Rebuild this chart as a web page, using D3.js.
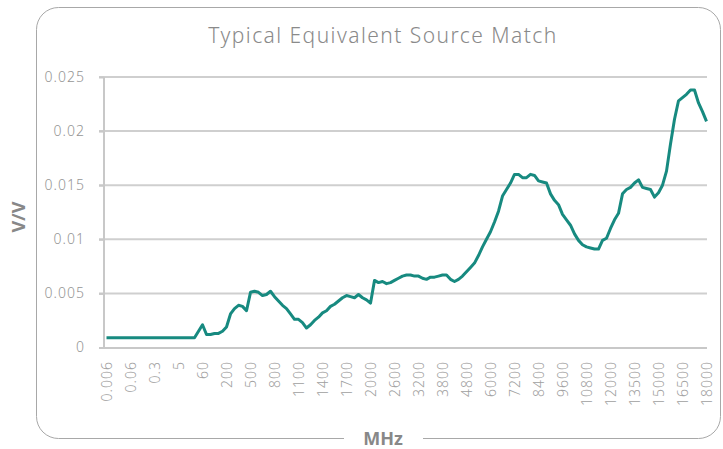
<!DOCTYPE html>
<html>
<head>
<meta charset="utf-8">
<script src="https://d3js.org/d3.v7.min.js"></script>
<style>
  body { margin: 0; background: #fff; }
  text { font-family: "Noto Sans", "Open Sans", sans-serif; }
</style>
</head>
<body>
<div id="graph"></div>
<script>
// x tick labels (MHz), one every 6 samples
var tickLabels = ["0.006", "0.06", "0.3", "5", "60", "200", "500", "800", "1100", "1400",
  "1700", "2000", "2600", "3200", "3800", "4800", "6000", "7200", "8400", "9600",
  "10800", "12000", "13500", "15000", "16500", "18000"];
var stepsPerLabel = 6;

// V/V values, one per sample
var match = [
  0.0009, 0.0009, 0.0009, 0.0009, 0.0009, 0.0009, 0.0009, 0.0009, 0.0009, 0.0009,
  0.0009, 0.0009, 0.0009, 0.0009, 0.0009, 0.0009, 0.0009, 0.0009, 0.0009, 0.0009,
  0.0009, 0.0009, 0.0009, 0.0015, 0.0021, 0.0012, 0.0012, 0.0013, 0.0013, 0.0015,
  0.0019, 0.0031, 0.0036, 0.0039, 0.0038, 0.0034, 0.0051, 0.0052, 0.0051, 0.0048,
  0.0049, 0.0052, 0.0047, 0.0043, 0.0039, 0.0036, 0.0031, 0.0026, 0.0026, 0.0023,
  0.0018, 0.0021, 0.0025, 0.0028, 0.0032, 0.0034, 0.0038, 0.0040, 0.0043, 0.0046,
  0.0048, 0.0047, 0.0046, 0.0049, 0.0046, 0.0044, 0.0041, 0.0062, 0.0060, 0.0061,
  0.0059, 0.0060, 0.0062, 0.0064, 0.0066, 0.0067, 0.0067, 0.0066, 0.0066, 0.0064,
  0.0063, 0.0065, 0.0065, 0.0066, 0.0067, 0.0067, 0.0063, 0.0061, 0.0063, 0.0066,
  0.0070, 0.0074, 0.0078, 0.0085, 0.0093, 0.0100, 0.0107, 0.0116, 0.0126, 0.0140,
  0.0146, 0.0152, 0.0160, 0.0160, 0.0157, 0.0157, 0.0160, 0.0159, 0.0154, 0.0153,
  0.0152, 0.0142, 0.0136, 0.0132, 0.0123, 0.0118, 0.0113, 0.0105, 0.0099, 0.0095,
  0.0093, 0.0092, 0.0091, 0.0091, 0.0099, 0.0101, 0.0110, 0.0118, 0.0124, 0.0142,
  0.0146, 0.0148, 0.0152, 0.0155, 0.0148, 0.0147, 0.0146, 0.0139, 0.0143, 0.0150,
  0.0163, 0.0188, 0.0211, 0.0228, 0.0231, 0.0234, 0.0238, 0.0238, 0.0226, 0.0218,
  0.0209
];

var yTicks = [0, 0.005, 0.01, 0.015, 0.02, 0.025];

const fullwidth = 723;
const fullheight = 449;

var svg = d3.select("#graph").append("svg")
  .attr("width", fullwidth)
  .attr("height", fullheight);

// rounded frame
svg.append("rect")
  .attr("x", 36.5).attr("y", 7.5)
  .attr("width", 684).attr("height", 431)
  .attr("rx", 22).attr("ry", 22)
  .attr("fill", "none")
  .attr("stroke", "#a8a8a8")
  .attr("stroke-width", 1);

var xScale = d3.scaleLinear()
  .domain([0, match.length - 1])
  .range([106.5, 706.5]);

var yScale = d3.scaleLinear()
  .domain([0, 0.025])
  .range([347.5, 77]);

// horizontal grid lines
svg.append("g")
  .selectAll("line")
  .data(yTicks.slice(1))
  .enter().append("line")
    .attr("x1", 99).attr("x2", 707)
    .attr("y1", d => yScale(d)).attr("y2", d => yScale(d))
    .attr("stroke", "#cfcfcf")
    .attr("stroke-width", 2);

// y axis
var yAxis = d3.axisLeft(yScale)
  .tickValues(yTicks)
  .tickFormat(d => d === 0 ? "0" : String(+d.toFixed(3)))
  .tickSize(5)
  .tickPadding(14);

var gy = svg.append("g")
  .attr("transform", "translate(104,0)")
  .call(yAxis);
gy.select(".domain").remove();
gy.selectAll(".tick line").attr("stroke", "#c8c8c8").attr("stroke-width", 2);
gy.selectAll(".tick text")
  .attr("fill", "#959595")
  .style("font-size", "14px")
  .style("font-weight", "300")
  .style("letter-spacing", "1px");

svg.append("line")
  .attr("x1", 104).attr("x2", 104)
  .attr("y1", 77).attr("y2", 348)
  .attr("stroke", "#c8c8c8")
  .attr("stroke-width", 2);

svg.append("line")
  .attr("x1", 99).attr("x2", 707)
  .attr("y1", 348).attr("y2", 348)
  .attr("stroke", "#c8c8c8")
  .attr("stroke-width", 2);

// x axis labels
var xAxis = d3.axisBottom(xScale)
  .tickValues(tickLabels.map((d, i) => i * stepsPerLabel))
  .tickFormat((d, i) => tickLabels[i])
  .tickSize(0);

var gx = svg.append("g")
  .attr("transform", "translate(0,348)")
  .call(xAxis);
gx.select(".domain").remove();
gx.selectAll(".tick text")
  .attr("transform", "rotate(-90)")
  .attr("x", -13)
  .attr("y", 0)
  .attr("dy", "0.35em")
  .attr("text-anchor", "end")
  .attr("fill", "#a0a0a0")
  .style("font-size", "14px")
  .style("font-weight", "300")
  .style("letter-spacing", "1px");

// data line
var line = d3.line()
  .x((d, i) => xScale(i))
  .y(d => yScale(d));

svg.append("path")
  .datum(match)
  .attr("d", line)
  .attr("fill", "none")
  .attr("stroke", "#178a80")
  .attr("stroke-width", 3)
  .attr("stroke-linejoin", "round");

// title
svg.append("text")
  .attr("x", 383).attr("y", 43)
  .attr("text-anchor", "middle")
  .attr("fill", "#8a8a8a")
  .style("font-size", "21px")
  .style("font-weight", "300")
  .style("letter-spacing", "1.45px")
  .text("Typical Equivalent Source Match");

// y label
svg.append("text")
  .attr("transform", "translate(25,217) rotate(-90)")
  .attr("text-anchor", "middle")
  .attr("fill", "#888")
  .style("font-size", "18px")
  .style("font-weight", "bold")
  .text("V/V");

// x label with gap in the frame
svg.append("rect")
  .attr("x", 344).attr("y", 430)
  .attr("width", 79).attr("height", 19)
  .attr("fill", "#fff");

svg.append("text")
  .attr("x", 383).attr("y", 445)
  .attr("text-anchor", "middle")
  .attr("fill", "#888")
  .style("font-size", "18px")
  .style("font-weight", "bold")
  .text("MHz");
</script>
</body>
</html>
